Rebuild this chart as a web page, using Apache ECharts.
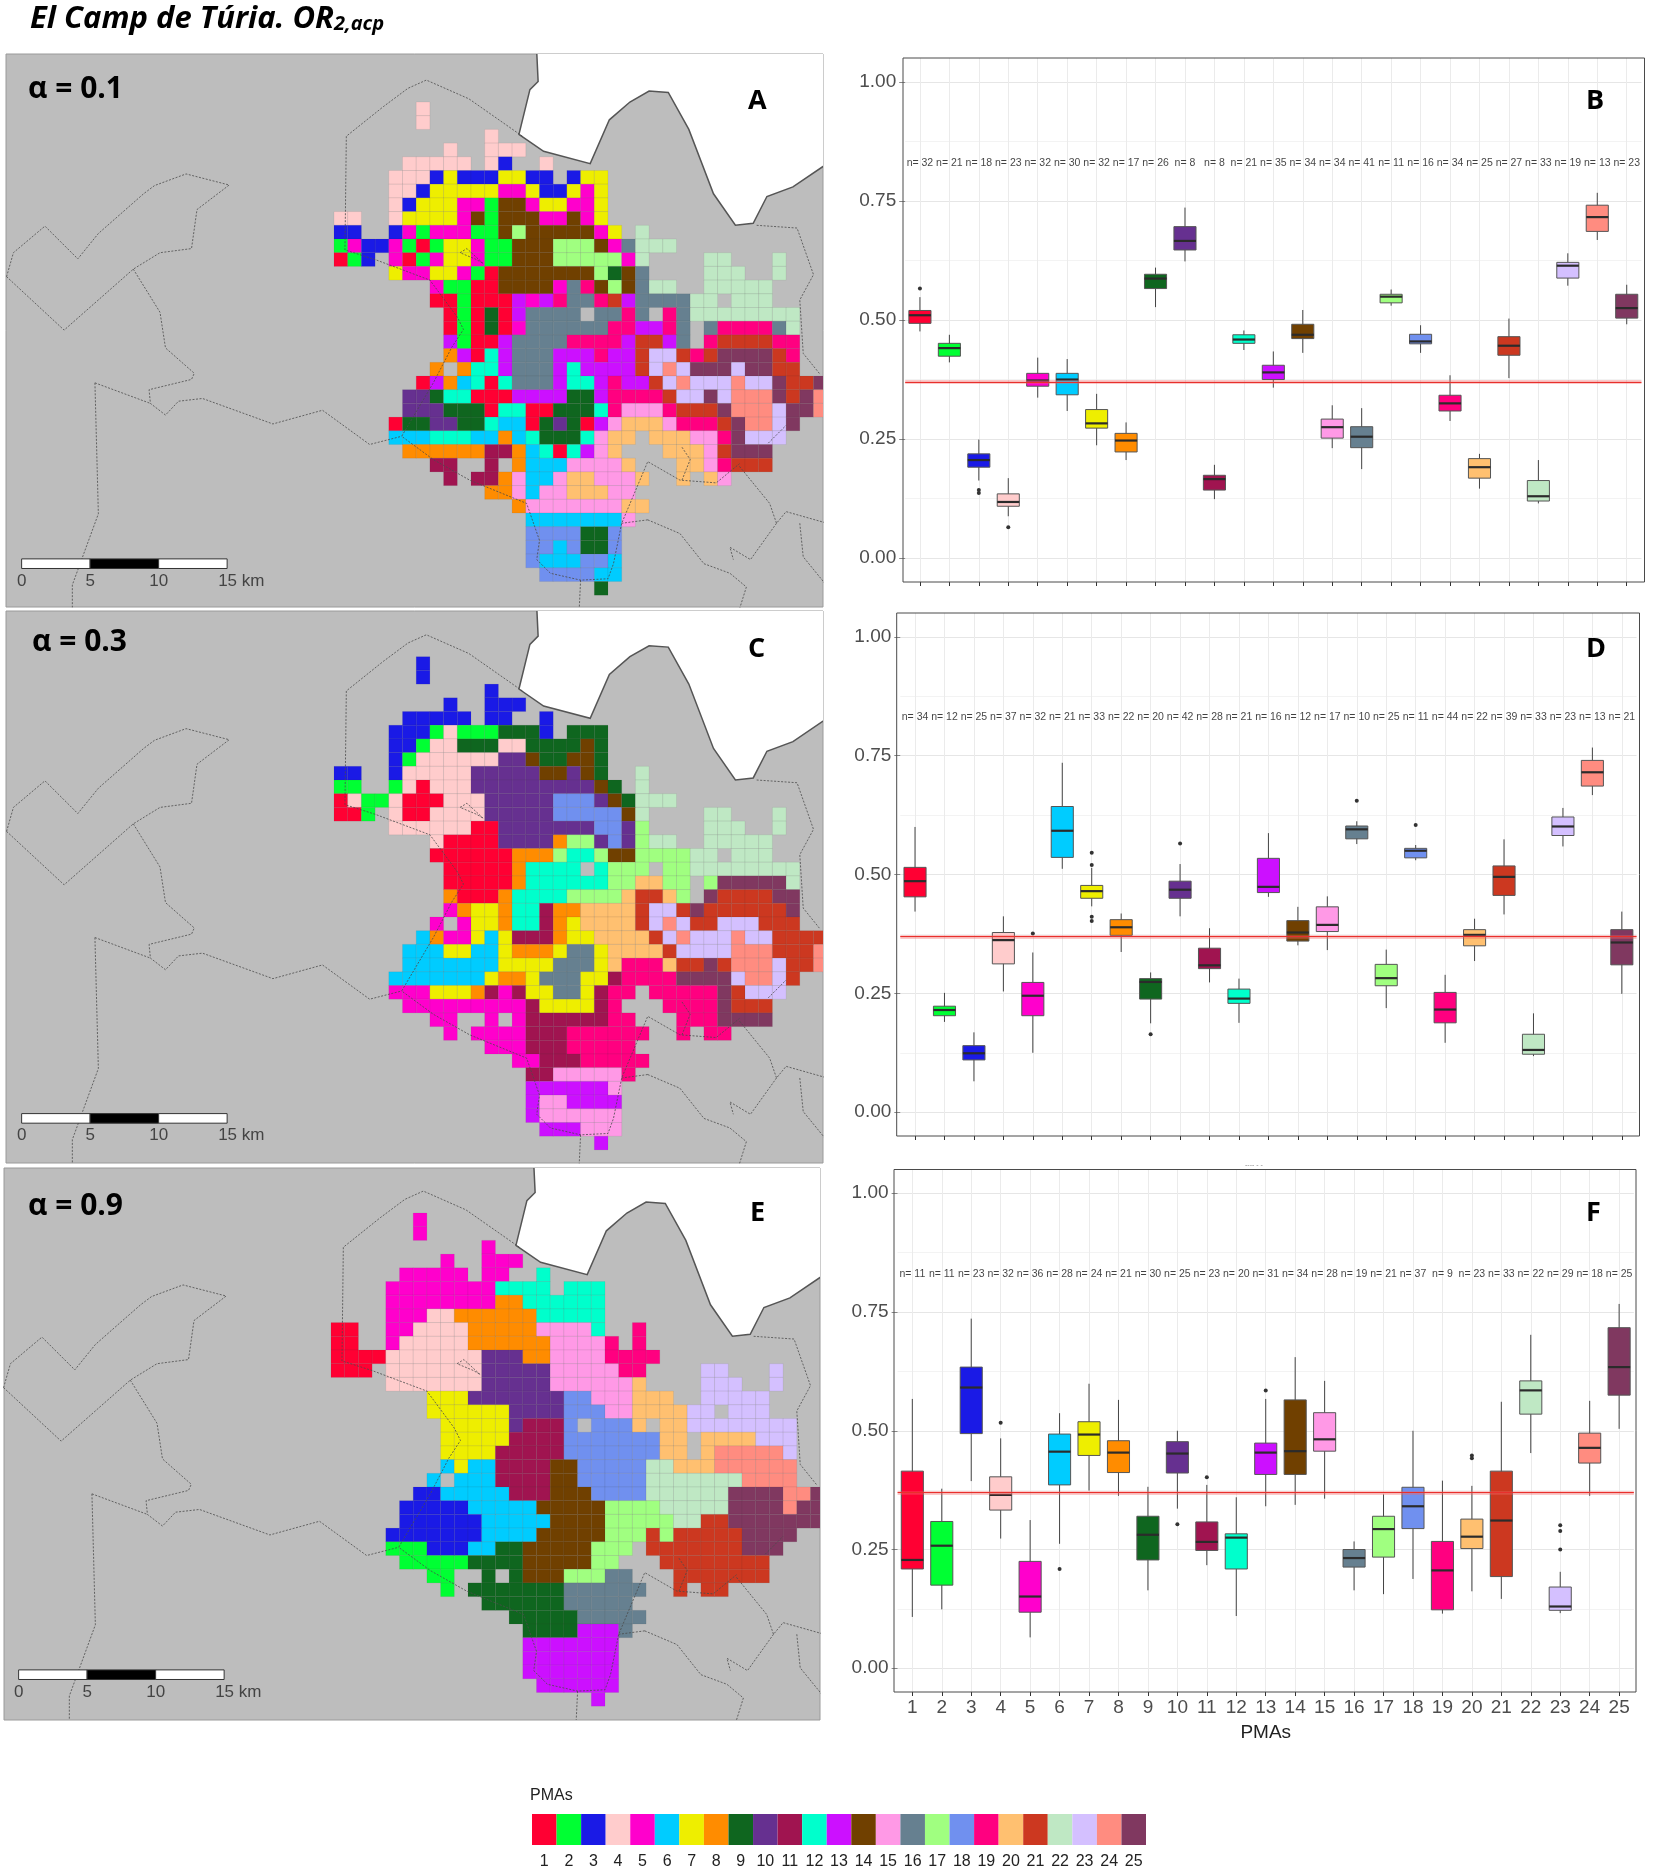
<!DOCTYPE html>
<html>
<head>
<meta charset="utf-8">
<title>El Camp de Turia</title>
<script src="https://cdn.jsdelivr.net/npm/echarts@6/dist/echarts.min.js"></script>
<style>
html, body { margin: 0; padding: 0; background: #fff; }
#main { width: 1653px; height: 1872px; }
</style>
</head>
<body>
<div id="main"></div>
<script>
var pmaColors = ['#ff0033', '#00ff33', '#1a1ae6', '#ffcccc', '#ff00cc', '#00ccff', '#eeee00', '#ff8c00', '#0f661f', '#663090',
    '#a01450', '#00ffcc', '#cc10ff', '#704000', '#ff99e6', '#668090', '#a0ff80', '#7090ef', '#ff0080', '#ffc070',
    '#cc3820', '#bfe8c4', '#d4c0ff', '#ff8c80', '#803860'];
var pmaNames = ['1', '2', '3', '4', '5', '6', '7', '8', '9', '10', '11', '12', '13', '14', '15', '16', '17', '18', '19', '20', '21', '22', '23', '24', '25'];
var pmaLetters = 'abcdefghijklmnopqrstuvwxy';

// map cells, one string per km row: letter = PMA (a=1 ... y=25), numbers = km columns
var mapA = ['d6', 'd6', 'd11', 'd8 d11-13', 'd5-9 d11 c12 d15',
    'd4-6 c7 g8 c9-11 g12-13 c14-15 c17 g18-19',
    'd4-5 c6 g7-11 e12-13 g14 c15-16 g17 e18 g19',
    'd4 c5 g6-8 e9-10 b11 n12-13 e14 g15-16 e17-18 g19',
    'd0-1 d4 g5-8 e9 n10 b11 n12-14 e15-16 n17 e18 g19',
    'c0-1 c4 e5 b6 e7-9 b10-11 n12 q13 n14-18 e19 g20 v22',
    'b0 e1 c2-3 e4 b5 a6 b7 g8-9 e10 b11-12 n13-15 q16-18 n19 e20 p21 v22-24',
    'a0 b1 c2 e4 a5 b6 e7 g8-9 e10 b11-12 n13-15 q16-20 e21 v22 v27-28 v32',
    'g4 e5-6 g7-8 e9 b10 a11 n12-18 q19 i20 n21 p22 v27-29 v32',
    'e7 b8-9 a10-11 n12-15 e16 p17 s18 n19 q20 n21 p22 v23-24 v27-31',
    'a7-8 b9 a10-12 m13 e14 m15 s16 p17-18 s19 u20 m21 p22-25 v26-27 v29-31',
    'a8 b9 a10 i11 a12 m13 p14-17 p19-20 s21 p22 s24 p25 v26-33',
    'a8 b9 a10 i11 a12 e13 p14-19 s20-21 m22-23 s24 p25 p27 s28-31 p32 v33',
    'm8 b9 a10-11 m12 p13-16 s17-20 m21 u22-23 m24 p25 s27 u28-31 s32-33',
    'h8 m9 a10 l11 m12 p13-15 m16-18 s19 m20-21 u22 w23-24 u25 s26 u27 y28-31 u32 s33',
    'h7 h9 l10-11 m12 p13-15 m16 l17 m18-21 u22 w23 x24 w25 y26-28 w29 y30-31 u32-33',
    'a6 m7 h8 f9 l10 a11 l12 p13-15 m16 l17-18 m19 s20 m21-22 u23 w24 x25 w26-28 x29 w30-31 y32 u33-34 y35',
    'j5-6 i7 l8-9 a10-12 m13-16 i17-18 m19 s20-23 u24 w25-26 y27 w28 x29-31 y32 u33 y34 x35',
    'j5-7 i8-10 a11 l12-13 a14-15 i16-18 l19 s20 o21-23 s24 u25-27 y28 x29-31 w32 y33-34 x35',
    'a4 i5-6 j7-8 i9-10 l11 f12-13 a14 i15 j16 i17 a18 m19 o20 t21-23 o24 s25-27 u28 y29 x30-31 w32 y33',
    'f4-6 l7-9 f10-11 h12 f13 l14 i15-17 l18 o19 t20-21 t23-25 o26-27 s28 y29 w30-32',
    'h5-10 k11-12 h13 f14 l15 a16 l17 m18 o19 t20 t24-26 o27 u28 y29-31',
    'k7-8 k11 h13 f14-16 o17-20 t21 t25-26 o27 s28 u29-31',
    'k8 k10-11 h12 o13 f14-15 o16 t17-18 o19-21 t22 t25 t27 o28',
    'h11-12 o13 f14 o15-16 t17-19 o20-21',
    'h13 o14-20 t21-22',
    'f14-20 o21',
    'r14-17 i18-19 r20',
    'r14-15 f16 r17 i18-19 r20',
    'r14 f15-17 r18-19 f20',
    'r15-18 f19-20',
    'i19'];

var mapC = ['c6', 'c6', 'c11', 'c8 c11-13', 'c5-9 c11-12 c15',
    'c4-6 b7 d8 b9-11 i12-14 c15 i17-19',
    'c4-5 b6 d7-8 i9-11 d12-13 i14-17 n18 i19',
    'c4 b5 d6-11 j12-13 n14 i15-16 n17-18 i19',
    'c0-1 c4 d5-9 j10-14 n15-16 j17 n18 i19 v22',
    'b0-1 b4 d5 a6 d7-9 j10-18 n19 i20 v22',
    'a0 d1 b2-3 d4 a5-7 d8-10 j11-15 r16-18 j19 n20 i21 v22-24',
    'a0-1 b2 d4 a5-6 d7-10 j11-15 r16-20 n21 v22 v27-28 v32',
    'd4-9 a10-11 j12-18 r19-20 j21 q22 v27-29 v32',
    'd7 a8-11 j12-15 h16 q17-18 j19 r20 j21 q22 v23-24 v27-31',
    'a7-12 h13-15 q16 l17-18 q19 n20-21 q22-25 v26-27 v29-31',
    'a8-12 h13 l14-17 l19 q20-22 q24-25 v26-33',
    'a8-12 h13 l14-19 q20-21 t22-23 q24-25 q27 y28-32 v33',
    'h8 a9-11 h12 l13-16 q17-20 t21 u22-23 t24 q25 y27 u28-31 y32-33',
    'e8 h9 g10-11 h12 l13-14 k15 h16-17 t18-21 u22 w23-24 u25 y26 u27-32 y33',
    'e7 e9 g10-11 h12 l13-14 k15 h16 g17 t18-21 u22 w23 x24 w25 u26-27 w28-30 u31-33',
    'f6 h7 e8-9 g10 f11 g12 k13-15 h16 g17-18 t19-22 u23 w24 x25 w26-28 x29 w30-31 u32-35',
    'f5-7 g8-9 f10-11 g12 h13-15 g16 p17-18 g19 t20-23 u24 w25-28 x29-31 u32-34 x35',
    'f5-11 g12-15 p16-18 g19 t20 s21-23 t24 u25-26 y27 u28 x29-31 w32 u33-34 x35',
    'f4-10 g11 h12-13 g14 p15-17 g18-19 k20 s21-24 y25-28 w29 x30-31 w32 u33',
    'e4-6 g7-9 h10 k11 e12 k13 g14-15 p16-17 g18 k19 s20-21 s23-27 y28 u29 w30-32',
    'e5-13 k14 g15-18 k19 s20 s24-27 y28 u29-31',
    'e7-8 e11 e13 k14-19 s20-21 s25-27 y28-31',
    'e8 e10-13 k14-16 s17-22 s25 s27-28',
    'e11-13 k14-16 s17-21',
    'e13-14 k15-17 s18-22',
    'k14-15 o16-20 s21',
    'm14-19 o20',
    'm14 o15-16 m17-20',
    'm14 o15-20',
    'm15-17 o18-20',
    'm19'];

var mapE = ['e6', 'e6', 'e11', 'e8 e11-13', 'e5-9 e11-12 l15',
    'e4-11 l12-15 l17-19',
    'e4-11 h12-13 l14-19',
    'e4-6 d7-8 h9-14 l15-19',
    'a0-1 e4-5 d6-9 h10-14 o15-18 l19 s22',
    'a0-1 e4 d5-9 h10-15 o16-19 s20 s22',
    'a0-3 d4-10 j11-13 h14-15 o16-19 s20-23',
    'a0-2 d4-10 j11-15 o16-20 s21-22 w27-28 w32',
    'd4-10 j11-15 o16-21 t22 w27-29 w32',
    'g7-9 j10-16 r17-18 o19-21 t22-24 w27-31',
    'g7-12 j13-16 r17-19 o20-21 t22-25 w26-27 w29-31',
    'g8-12 j13 k14-16 r17 r19-21 t22 t24-25 w26-33',
    'g8-12 k13-16 r17-23 t24-25 t27-30 w31-33',
    'g8-11 k12-16 r17-23 t24-25 t27 x28-32 w33',
    'f8 g9 f10-11 k12-15 n16-17 r18-22 v23-24 t25-27 x28-33',
    'f7 f9-11 k12-15 n16-17 r18-22 v23-29 x30-33',
    'c6-7 f8-12 k13-15 n16-18 r19-22 v23-28 y29-32 x33-34 y35',
    'c5-9 f10-14 n15-19 q20-23 v24-28 y29-32 x33 y34-35',
    'c5-10 f11-15 n16-19 q20-24 v25-26 u27-28 y29-35',
    'c4-10 f11-14 n15-19 q20-22 u23 q24 u25-29 y30-33',
    'b4-6 c7-9 f10-11 i12-13 n14-18 q19-21 u23-29 y30-32',
    'b5-9 i10-13 n14-18 q19-20 u24-31',
    'b7-8 i11 i13 n14-16 q17-19 p20-21 u25-31',
    'b8 i10-16 p17-22 u25 u27-28',
    'i11-16 p17-21',
    'i13-17 p18-22',
    'i14-17 m18-20 p21',
    'm14-20', 'm14-20', 'm14-20',
    'm15-20',
    'm19'];

// background geography, in the same km grid
var seaPoints = [[14.8, -3.6], [14.9, -1.5], [14.3, -0.9], [13.5, 2.36], [15.3, 3.6], [18.7, 4.5], [20.1, 1.3], [21.6, 0], [23, -0.8], [24.4, -0.7],
    [25.9, 2], [27.7, 6.7], [29.3, 9], [30.6, 8.85], [31.6, 6.9], [33.5, 6.2], [36, 4.5], [36, -3.6]];
var borderLines = [
    [[-23.9, 12.75], [-23.4, 11], [-21.1, 9.06], [-18.7, 11.45], [-17.2, 9.6], [-13.9, 6.7], [-13.1, 6.1], [-10.8, 5.25], [-7.65, 6.06], [-10, 7.85], [-10.4, 10.7], [-12.7, 11], [-14.65, 12.2], [-19.7, 16.65], [-23.9, 12.75]],
    [[-14.65, 12.2], [-12.7, 15.35], [-12.3, 17.95], [-10.2, 19.8], [-10.4, 20.25], [-13.5, 21], [-13.4, 22], [-12.3, 22.85], [-11.35, 21.84], [-9.6, 21.64], [-4.46, 23.5], [-0.84, 22.5], [2.6, 25], [4.94, 24.4]],
    [[-17.45, 20.5], [-13.4, 22]],
    [[-17.45, 20.5], [-17.2, 30.06], [-19.1, 35.25], [-19.1, 37]],
    [[13.75, 2.5], [9.85, -0.23], [6.74, -1.6], [5.4, -1], [3.6, 0.34], [0.9, 2.5], [0.8, 10.8], [3, 11.5], [7, 13], [9, 15.7], [9.45, 16.6], [8.6, 17.9], [7.25, 20.5], [4.94, 24.4], [7.25, 26.1], [9.9, 27.6], [14.06, 29.3], [15, 32], [14.8, 33.4], [15.8, 34.4], [18, 34.9], [20, 34.8], [20.4, 33.7], [21, 30.75], [22.9, 26.25], [25.25, 27.6], [27.9, 27.8], [29.6, 26.4]],
    [[30.85, 9], [33.8, 9.2], [35, 12.6], [34, 14.45], [34.25, 18.35], [35.5, 19.9]],
    [[31.7, 24.9], [33, 23.6]],
    [[22.9, 30.5], [25.25, 31.5], [27, 33.7], [28.9, 34.4], [30.1, 35.4], [29.6, 37]],
    [[22.9, 30.5], [21, 30.75]],
    [[29.6, 26.6], [31.8, 29.3], [32.3, 30.75], [33, 29.9], [36, 30.75]],
    [[32.3, 30.75], [30.4, 33.4], [28.9, 32.5], [29.15, 33.4]],
    [[34, 30.75], [34.25, 33.2], [35.8, 35.1]],
    [[18, 34.9], [17.9, 37]],
    [[9.2, 11], [9.7, 10.7], [10.9, 11.8], [10.4, 11.5], [9.2, 11]],
    [[25.4, 25.2], [26, 26.1], [25.4, 27.6]]
];
var scaleKm = [0, 5, 10, 15];
var scaleLabels = ['0', '5', '10', '15 km'];

// boxplots: [low whisker, Q1, median, Q3, high whisker]
var boxesB = [[.476, .493, .510, .520, .548], [.411, .424, .441, .451, .469], [.163, .191, .206, .219, .249], [.088, .109, .118, .135, .168], [.337, .361, .373, .388, .421],
    [.309, .343, .375, .388, .418], [.237, .273, .283, .312, .345], [.206, .223, .247, .262, .285], [.527, .566, .587, .596, .610], [.623, .647, .666, .696, .736],
    [.124, .143, .166, .174, .196], [.437, .451, .459, .469, .478], [.358, .375, .390, .405, .434], [.431, .461, .469, .491, .521], [.231, .252, .275, .292, .321],
    [.187, .232, .255, .276, .315], [.530, .536, .549, .554, .564], [.431, .450, .455, .470, .489], [.288, .309, .325, .342, .384], [.146, .168, .191, .209, .219],
    [.378, .426, .446, .465, .503], [.115, .120, .130, .163, .206], [.572, .588, .614, .621, .640], [.668, .686, .716, .741, .767], [.491, .504, .525, .554, .574]];
var outliersB = [[0, .566], [2, .143], [2, .137], [3, .065]];
var countsB = [32, 21, 18, 23, 32, 30, 32, 17, 26, 8, 8, 21, 35, 34, 34, 41, 11, 16, 34, 25, 27, 33, 19, 13, 23];

var boxesD = [[.422, .453, .486, .515, .600], [.190, .203, .215, .223, .251], [.065, .110, .124, .140, .168], [.254, .312, .362, .378, .412], [.125, .203, .245, .273, .336],
    [.512, .536, .592, .643, .735], [.433, .450, .465, .477, .514], [.337, .372, .389, .405, .418], [.187, .238, .274, .281, .294], [.412, .450, .468, .486, .522],
    [.273, .302, .309, .345, .387], [.188, .229, .239, .259, .281], [.453, .462, .474, .534, .587], [.351, .360, .378, .403, .432], [.341, .380, .394, .432, .454],
    [.564, .575, .595, .602, .612], [.219, .266, .282, .311, .342], [.530, .535, .550, .555, .562], [.146, .188, .216, .252, .289], [.318, .350, .373, .384, .407],
    [.416, .456, .495, .518, .574], [.118, .122, .131, .164, .208], [.559, .582, .601, .621, .640], [.667, .686, .715, .740, .767], [.249, .310, .357, .384, .422]];
var outliersD = [[4, .376], [6, .546], [6, .520], [6, .411], [6, .402], [8, .164], [9, .565], [15, .655], [17, .604]];
var countsD = [34, 12, 25, 37, 32, 21, 33, 22, 20, 42, 28, 21, 16, 12, 17, 10, 25, 11, 44, 22, 39, 33, 23, 13, 21];

var boxesF = [[.108, .209, .228, .415, .567], [.124, .175, .258, .309, .378], [.394, .494, .591, .634, .736], [.273, .333, .365, .403, .484], [.065, .118, .151, .225, .312],
    [.262, .386, .456, .493, .537], [.374, .448, .492, .519, .599], [.363, .412, .454, .479, .565], [.164, .228, .281, .320, .382], [.336, .411, .452, .477, .500],
    [.217, .248, .266, .308, .386], [.110, .209, .275, .283, .360], [.341, .408, .454, .474, .567], [.344, .408, .457, .565, .655], [.357, .457, .482, .538, .605],
    [.164, .213, .232, .250, .267], [.156, .234, .293, .320, .366], [.188, .294, .341, .381, .500], [.115, .123, .206, .267, .395], [.162, .252, .277, .314, .384],
    [.146, .193, .311, .415, .561], [.453, .535, .585, .605, .702], [.116, .122, .130, .171, .203], [.363, .432, .464, .495, .563], [.504, .575, .634, .717, .767]];
var outliersF = [[3, .517], [5, .209], [9, .303], [10, .402], [12, .585], [19, .448], [19, .442], [22, .301], [22, .289], [22, .250]];
var countsF = [11, 11, 23, 32, 36, 28, 24, 21, 30, 25, 23, 20, 31, 34, 28, 19, 21, 37, 9, 23, 33, 22, 29, 18, 25];

var globalMean = 0.372;
var countY = 0.83;
var majorTicks = [0, 0.25, 0.5, 0.75, 1];
var minorTicks = [0.125, 0.375, 0.625, 0.875];

var myChart = echarts.init(document.getElementById('main'));
var cellKm = 13.7;
var bandPx = 29.45;

var option = { animation: false, backgroundColor: '#fff', grid: [], xAxis: [], yAxis: [], series: [], graphic: [] };

function parseCells(rows) {
    var cells = [];
    rows.forEach(function (row, r) {
        row.split(' ').forEach(function (tok) {
            var m = /^([a-y])(\d+)(?:-(\d+))?$/.exec(tok);
            var first = +m[2];
            var last = m[3] ? +m[3] : first;
            for (var c = first; c <= last; c++) {
                cells.push([c, r, pmaLetters.indexOf(m[1])]);
            }
        });
    });
    return cells;
}

function addText(text, x, y, size, family, extra) {
    option.graphic.push({
        type: 'text', x: x, y: y, z: 50, silent: true,
        style: Object.assign({ text: text, fill: '#000', font: 'bold ' + size + 'px ' + family, textVerticalAlign: 'middle' }, extra || {})
    });
}

function addMap(rows, box, col0, row0) {
    var idx = option.grid.length;
    option.grid.push({
        show: true, left: box[0], top: box[1], width: box[2] - box[0], height: box[3] - box[1],
        backgroundColor: '#bdbdbd', borderColor: '#9a9a9a', borderWidth: 1
    });
    option.xAxis.push({ type: 'value', gridIndex: idx, show: false, min: (box[0] - col0) / cellKm, max: (box[2] - col0) / cellKm, splitLine: { show: false } });
    option.yAxis.push({ type: 'value', gridIndex: idx, show: false, inverse: true, min: (box[1] - row0) / cellKm, max: (box[3] - row0) / cellKm, splitLine: { show: false } });

    option.series.push({
        type: 'custom', xAxisIndex: idx, yAxisIndex: idx, silent: true, clip: true, z: 2, data: [[0, 0]],
        renderItem: function (params, api) {
            var pts = seaPoints.map(function (p) { return api.coord(p); });
            return { type: 'polygon', shape: { points: pts }, style: { fill: '#fff', stroke: '#555', lineWidth: 1.5 } };
        }
    });
    option.series.push({
        type: 'custom', xAxisIndex: idx, yAxisIndex: idx, silent: true, clip: true, z: 3, data: parseCells(rows), encode: { x: 0, y: 1 },
        renderItem: function (params, api) {
            var p = api.coord([api.value(0), api.value(1)]);
            var s = api.size([1, 1]);
            return {
                type: 'rect', shape: { x: p[0], y: p[1], width: s[0], height: s[1] },
                style: { fill: pmaColors[api.value(2)], stroke: 'rgba(70,70,70,0.16)', lineWidth: 0.5 }
            };
        }
    });
    borderLines.forEach(function (line) {
        option.series.push({
            type: 'line', xAxisIndex: idx, yAxisIndex: idx, silent: true, z: 4, data: line, symbol: 'none',
            lineStyle: { color: '#4a4a4a', width: 0.8, type: [2, 1.5] }
        });
    });
    // scale bar
    option.series.push({
        type: 'custom', xAxisIndex: idx, yAxisIndex: idx, silent: true, z: 5, data: [0, 1, 2],
        renderItem: function (params, api) {
            var i = params.dataIndex;
            var p0 = api.coord([-22.8 + scaleKm[i], 33.35]);
            var p1 = api.coord([-22.8 + scaleKm[i + 1], 34.05]);
            return {
                type: 'rect', shape: { x: p0[0], y: p0[1], width: p1[0] - p0[0], height: p1[1] - p0[1] },
                style: { fill: i == 1 ? '#000' : '#fff', stroke: '#333', lineWidth: 1 }
            };
        }
    });
    option.series.push({
        type: 'custom', xAxisIndex: idx, yAxisIndex: idx, silent: true, z: 5, data: scaleLabels,
        renderItem: function (params, api) {
            var i = params.dataIndex;
            var p = api.coord([-22.8 + scaleKm[i], 34.95]);
            return {
                type: 'text', x: p[0] - (i == 3 ? 9 : 0), y: p[1],
                style: { text: scaleLabels[i], fill: '#444', font: '17px "Liberation Sans"', textAlign: i == 3 ? 'left' : 'center', textVerticalAlign: 'middle' }
            };
        }
    });
}

function addBoxes(boxes, outliers, counts, gridBox, frame, showNames) {
    var idx = option.grid.length;
    option.grid.push({ left: gridBox[0], top: gridBox[1], width: 25 * bandPx, height: gridBox[2] });
    option.xAxis.push({
        type: 'category', gridIndex: idx, data: pmaNames,
        name: showNames ? 'PMAs' : '', nameLocation: 'middle', nameGap: 31,
        nameTextStyle: { color: '#222', fontSize: 19, fontFamily: 'Liberation Sans' },
        axisLine: { show: false, onZero: false },
        axisTick: { show: true, alignWithLabel: true, length: 4, lineStyle: { color: '#333' }, interval: 0 },
        axisLabel: { show: !!showNames, interval: 0, color: '#4d4d4d', fontSize: 19, fontFamily: 'Liberation Sans', margin: 6 },
        splitLine: { show: true, alignWithLabel: true, interval: 0, lineStyle: { color: '#ebebeb', width: 1 } }
    });
    var yIdx = option.yAxis.length;
    option.yAxis.push({
        type: 'value', gridIndex: idx, min: -0.05, max: 1.05,
        axisLine: { show: false },
        axisTick: { show: true, length: 6, lineStyle: { color: '#888' }, customValues: majorTicks },
        axisLabel: { color: '#4d4d4d', fontSize: 19, fontFamily: 'Liberation Sans', margin: 9, customValues: majorTicks, formatter: function (v) { return v.toFixed(2); } },
        splitLine: { show: true, lineStyle: { color: '#e6e6e6', width: 1 } }
    });
    minorAxes.push({
        type: 'value', gridIndex: idx, min: -0.05, max: 1.05,
        axisLine: { show: false }, axisTick: { show: false, customValues: minorTicks }, axisLabel: { show: false, customValues: minorTicks },
        splitLine: { show: true, lineStyle: { color: '#f3f3f3', width: 1 } }
    });

    // ggplot style boxes: whisker without caps, thick median
    option.series.push({
        type: 'custom', xAxisIndex: idx, yAxisIndex: yIdx, silent: true, z: 3,
        data: boxes.map(function (b, i) { return [i, b[0], b[1], b[2], b[3], b[4]]; }),
        encode: { x: 0, y: [1, 2, 3, 4, 5] },
        renderItem: function (params, api) {
            var i = api.value(0);
            var half = api.size([1, 0])[0] * 0.375;
            var lo = api.coord([i, api.value(1)]);
            var q1 = api.coord([i, api.value(2)]);
            var med = api.coord([i, api.value(3)]);
            var q3 = api.coord([i, api.value(4)]);
            var hi = api.coord([i, api.value(5)]);
            return {
                type: 'group',
                children: [
                    { type: 'line', shape: { x1: lo[0], y1: lo[1], x2: hi[0], y2: hi[1] }, style: { stroke: '#444', lineWidth: 1 } },
                    { type: 'rect', shape: { x: q3[0] - half, y: q3[1], width: half * 2, height: q1[1] - q3[1] }, style: { fill: pmaColors[i], stroke: '#555', lineWidth: 1 } },
                    { type: 'line', shape: { x1: med[0] - half, y1: med[1], x2: med[0] + half, y2: med[1] }, style: { stroke: '#2b2b2b', lineWidth: 2.2 } }
                ]
            };
        },
        markLine: {
            silent: true, symbol: 'none', animation: false, label: { show: false }, z: 6,
            data: [
                { yAxis: globalMean, lineStyle: { color: 'rgba(240,100,100,0.45)', width: 3.5, type: 'solid' } },
                { yAxis: globalMean, lineStyle: { color: '#e8302c', width: 1, type: 'solid' } }
            ]
        }
    });
    option.series.push({
        type: 'scatter', xAxisIndex: idx, yAxisIndex: yIdx, silent: true, z: 4, symbolSize: 4,
        itemStyle: { color: '#333', opacity: 1 }, data: outliers
    });
    // n= labels
    option.series.push({
        type: 'scatter', xAxisIndex: idx, yAxisIndex: yIdx, silent: true, z: 5, symbolSize: 0.01,
        data: counts.map(function (n, i) { return { value: [i, countY], name: 'n= ' + n }; }),
        label: { show: true, position: 'inside', formatter: '{b}', color: '#111', fontSize: 10.5, fontFamily: 'Liberation Sans' },
        labelLayout: { hideOverlap: false }
    });
    option.graphic.push({
        type: 'rect', z: 40, silent: true, shape: { x: frame[0], y: gridBox[1], width: frame[1] - frame[0], height: gridBox[2] },
        style: { fill: 'none', stroke: '#4a4a4a', lineWidth: 1 }
    });
}

var minorAxes = [];
addMap(mapA, [6, 54, 823, 607], 334, 102);
addMap(mapC, [6, 611, 823, 1163], 334, 656.7);
addMap(mapE, [4, 1168, 820, 1720], 331, 1213);
addBoxes(boxesB, outliersB, countsB, [905.2, 58, 524], [903, 1644.5], false);
addBoxes(boxesD, outliersD, countsD, [900.3, 613, 523], [896.7, 1639.5], false);
addBoxes(boxesF, outliersF, countsF, [897.6, 1169.5, 522.5], [894, 1636], true);

// colour key
var keyIdx = option.grid.length;
option.grid.push({ left: 532, top: 1814, width: 614, height: 31 });
option.xAxis.push({
    type: 'category', gridIndex: keyIdx, data: pmaNames,
    axisLine: { show: false }, axisTick: { show: false },
    axisLabel: { interval: 0, color: '#222', fontSize: 16, fontFamily: 'Liberation Sans', margin: 9 }
});
var keyY = option.yAxis.length;
option.yAxis.push({ type: 'value', gridIndex: keyIdx, show: false, min: 0, max: 1, splitLine: { show: false } });
option.series.push({
    type: 'bar', xAxisIndex: keyIdx, yAxisIndex: keyY, silent: true, barWidth: '100%',
    data: pmaColors.map(function (c) { return { value: 1, itemStyle: { color: c } }; })
});

// paler minor grid lines, drawn by their own y axes
minorAxes.forEach(function (a) { option.yAxis.push(a); });

// panel text
option.graphic.push({
    type: 'text', x: 30, y: 19, z: 50, silent: true,
    style: {
        text: '{a|El Camp de Túria. OR}{b|2,acp}', textVerticalAlign: 'middle',
        rich: {
            a: { fill: '#000', fontStyle: 'italic', fontWeight: 'bold', fontSize: 31, fontFamily: 'Open Sans', verticalAlign: 'bottom' },
            b: { fontStyle: 'italic', fontWeight: 'bold', fontSize: 20, fontFamily: 'Open Sans', fill: '#000', verticalAlign: 'bottom', padding: [10, 0, 0, 0] }
        }
    }
});
addText('α = 0.1', 28, 89, 30, '"Open Sans"');
addText('α = 0.3', 32, 642, 30, '"Open Sans"');
addText('α = 0.9', 28, 1206, 30, '"Open Sans"');
addText('A', 748, 101, 27, '"Open Sans"');
addText('C', 748, 649, 27, '"Open Sans"');
addText('E', 750, 1213, 27, '"Open Sans"');
addText('B', 1586, 101, 27, '"Open Sans"');
addText('D', 1586, 649, 27, '"Open Sans"');
addText('F', 1586, 1213, 27, '"Open Sans"');
option.graphic.push({
    type: 'text', x: 530, y: 1796, z: 50, silent: true,
    style: { text: 'PMAs', fill: '#222', font: '16px "Liberation Sans"', textVerticalAlign: 'middle' }
});
// small stray mark above panel F in the source figure
option.graphic.push({
    type: 'text', x: 1245, y: 1165, z: 50, silent: true,
    style: { text: '---- - -', fill: '#888', font: '7px "Liberation Sans"', textVerticalAlign: 'middle' }
});

myChart.setOption(option);
</script>
</body>
</html>
